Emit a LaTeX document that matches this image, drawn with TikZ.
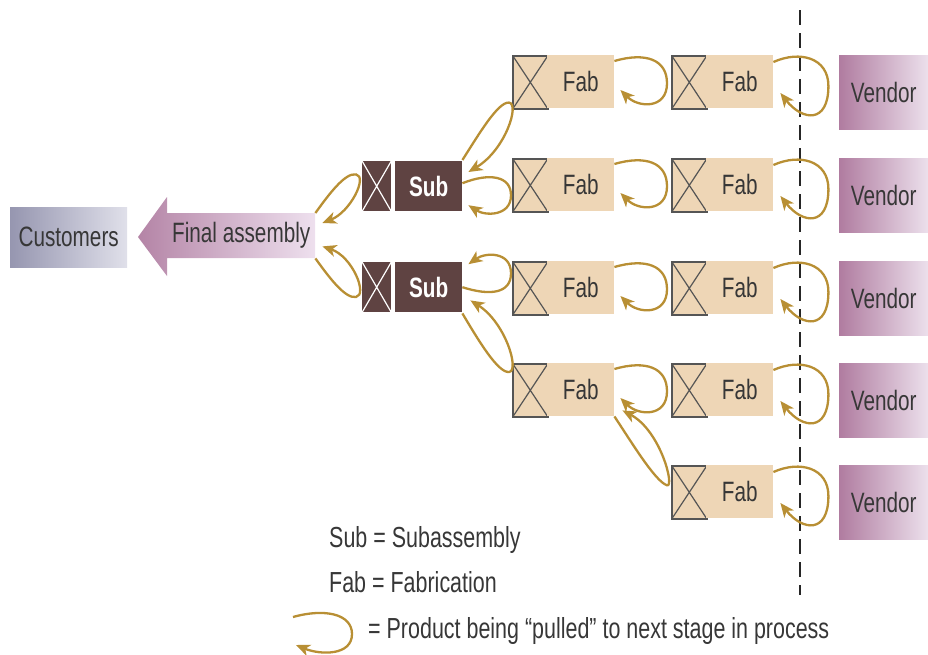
\documentclass[tikz,border=0pt]{standalone}
\usepackage{fontspec}
\newfontfamily\cond[FakeStretch=0.74]{Liberation Sans}
\usetikzlibrary{arrows.meta,calc}
\definecolor{fabc}{RGB}{238,214,182}
\definecolor{subc}{RGB}{95,67,66}
\definecolor{gold}{RGB}{184,143,52}
\definecolor{xgray}{RGB}{85,85,85}
\definecolor{txt}{RGB}{55,55,55}
\definecolor{cusl}{RGB}{150,150,176}
\definecolor{cusr}{RGB}{224,224,234}
\definecolor{fal}{RGB}{180,132,166}
\definecolor{far}{RGB}{238,224,238}
\definecolor{venl}{RGB}{176,124,160}
\definecolor{venr}{RGB}{236,224,236}
\begin{document}
\begin{tikzpicture}[x=1pt,y=-1pt,
  lbl/.style={font=\cond\fontsize{28}{30}\selectfont, text=txt},
  fab/.style={lbl, fill=fabc, minimum width=67pt, minimum height=53pt, inner sep=0pt, anchor=north west},
  xbox/.style={draw=xgray, line width=1.6pt, fill=fabc, minimum width=35pt, minimum height=53pt, inner sep=0pt, anchor=north west,
    path picture={\draw[xgray,line width=1.2pt] (path picture bounding box.north west)--(path picture bounding box.south east) (path picture bounding box.south west)--(path picture bounding box.north east);}},
  subx/.style={fill=subc, minimum width=29pt, minimum height=50pt, inner sep=0pt, anchor=north west,
    path picture={\draw[white,line width=1.2pt] (path picture bounding box.north west)--(path picture bounding box.south east) (path picture bounding box.south west)--(path picture bounding box.north east);}},
  subbox/.style={fill=subc, minimum width=67pt, minimum height=50pt, inner sep=0pt, anchor=north west, text=white, font=\cond\bfseries\fontsize{28}{30}\selectfont},
  vendor/.style={lbl, left color=venl, right color=venr, minimum width=89pt, minimum height=74pt, inner sep=0pt, anchor=north west},
  legend/.style={font=\cond\fontsize{29}{31}\selectfont, text=txt, inner sep=0pt, anchor=base west},
  pull/.style={draw=gold, line width=2.3pt, -{Stealth[length=14pt,width=12pt,inset=4pt]}}
]
\useasboundingbox (0,0) rectangle (928,654);

% customers and final assembly
\node[lbl, left color=cusl, right color=cusr, minimum width=117pt, minimum height=60pt, inner sep=0pt, anchor=north west] (cus) at (10,207) {Customers};
\shade[left color=fal, right color=far] (138,237) -- (167,197) -- (167,213) -- (315,213) -- (315,258) -- (167,258) -- (167,276) -- cycle;
\node[lbl, minimum width=148pt, minimum height=45pt, inner sep=0pt, anchor=north west] (fa) at (167,213) {Final assembly};

% subassemblies
\node[subx] (sx1) at (362,161) {};
\node[subbox] (s1) at (395,161) {Sub};
\node[subx] (sx2) at (362,262) {};
\node[subbox] (s2) at (395,262) {Sub};

% fabrication column 1
\foreach \r/\t in {1/55,2/158,3/261,4/363}{
  \node[xbox] (x\r1) at (512,\t) {};
  \node[fab] (f\r1) at (547,\t) {Fab};
}
% fabrication column 2 and vendors
\foreach \r/\t in {1/55,2/158,3/261,4/363,5/465}{
  \node[xbox] (x\r2) at (671,\t) {};
  \node[fab] (f\r2) at (706,\t) {Fab};
  \node[vendor] (v\r) at (839,\t) {Vendor};
}

% dashed boundary
\coordinate (dtop) at (800,10);
\coordinate (dbot) at (800,595);
\draw[black!85, line width=2pt, dash pattern=on 15pt off 8pt] (dtop) -- (dbot);

% vendor loops
\foreach \r in {1,2,3,4,5}{
  \draw[pull] ($(f\r2.north east)+(0,7)$) .. controls +(27,-12) and +(0,-28) .. ($(f\r2.north east)+(55,31)$)
     .. controls +(0,38) and +(22,28) .. ($(f\r2.north east)+(7,38)$);
}
% column 2 -> column 1 loops
\foreach \r in {1,2,3,4}{
  \draw[pull] ($(f\r1.north east)+(0,6)$) .. controls +(31,-9) and +(0,-24) .. ($(x\r2.west)+(-4,1)$)
     .. controls +(0,26) and +(18,18) .. ($(f\r1.north east)+(6,35)$);
}
% row 5 -> row 4 column 1
\draw[pull] (f41.south east) .. controls +(16,24) and +(-12,-4) .. ($(x52.west)+(-4,-7)$)
   .. controls +(8,2) and +(38,20) .. ($(f41.south east)+(8,-6)$);

% fab -> sub loops
\draw[pull] ($(s1.north east)+(0,-1)$) .. controls +(16,-25) and +(-11,-1) .. ($(x11.south west)+(-3,-7)$)
   .. controls +(11,1) and +(37,-22) .. ($(s1.north east)+(6,11)$);
\draw[pull] ($(s1.east)+(0,-3)$) .. controls +(28,-11) and +(0,-19) .. ($(x21.west)+(-1,10)$)
   .. controls +(0,21) and +(17,11) .. ($(s1.east)+(6,19)$);
\draw[pull] (s2.east) .. controls +(28,9) and +(0,20) .. ($(x31.west)+(-1,-15)$)
   .. controls +(0,-22) and +(17,-12) .. ($(s2.east)+(6,-23)$);
\draw[pull] ($(s2.south east)+(0,1)$) .. controls +(16,27) and +(-11,1) .. ($(x41.north west)+(-3,9)$)
   .. controls +(11,-1) and +(35,22) .. ($(s2.south east)+(8,-12)$);

% sub -> final assembly loops
\draw[pull] (fa.north east) .. controls +(13,-18) and +(-11,-2) .. ($(sx1.south west)+(-6,-37)$)
   .. controls +(12,2) and +(28,-11) .. ($(fa.north east)+(7,10)$);
\draw[pull] (fa.south east) .. controls +(13,18) and +(-11,2) .. ($(sx2.north west)+(-6,35)$)
   .. controls +(12,-2) and +(30,10) .. ($(fa.south east)+(7,-12)$);

% legend
\node[legend] (l1) at (329,547) {Sub = Subassembly};
\node[legend] (l2) at (329,592) {Fab = Fabrication};
\node[legend] (l3) at (368,638) {= Product being “pulled” to next stage in process};
\coordinate (la) at (293,617);
\coordinate (lm) at (352,634);
\coordinate (lb) at (296,645);
\draw[pull] (la) .. controls +(32,-9) and +(0,-20) .. (lm) .. controls +(0,22) and +(24,10) .. (lb);
\end{tikzpicture}
\end{document}
